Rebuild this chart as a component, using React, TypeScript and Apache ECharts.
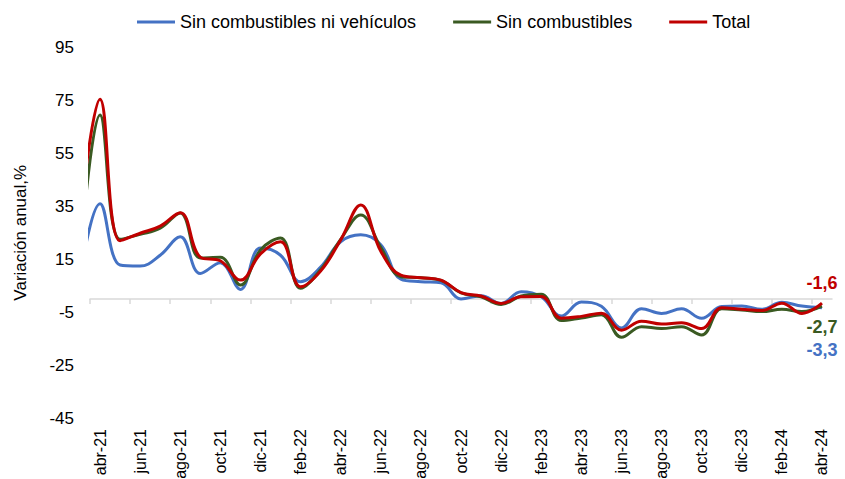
import React, { useEffect, useRef } from 'react';
import * as echarts from 'echarts';

// Months (mar-21 is only partly visible at the left edge, clipped by the plot area)
const months = [
  'mar-21', 'abr-21', 'may-21', 'jun-21', 'jul-21', 'ago-21', 'sep-21', 'oct-21', 'nov-21', 'dic-21',
  'ene-22', 'feb-22', 'mar-22', 'abr-22', 'may-22', 'jun-22', 'jul-22', 'ago-22', 'sep-22', 'oct-22', 'nov-22', 'dic-22',
  'ene-23', 'feb-23', 'mar-23', 'abr-23', 'may-23', 'jun-23', 'jul-23', 'ago-23', 'sep-23', 'oct-23', 'nov-23', 'dic-23',
  'ene-24', 'feb-24', 'mar-24', 'abr-24',
];

const sinCombNiVeh = [
  8, 36, 12.8, 12.4, 16.5, 23.5, 9.6, 13.7, 3.6, 19.2,
  16.5, 6.5, 12, 21.6, 24.2, 20.5, 7.5, 6.5, 6.1, 0, 1.2, -1.7,
  2.7, 0.8, -6.5, -1.2, -2.8, -11, -3.7, -5.5, -3.7, -7.3, -2.9, -2.7,
  -3.9, -1.3, -2.7, -3.3,
];

const sinComb = [
  14, 69.5, 22.5, 24.4, 26.7, 32.5, 15.5, 15.7, 5.3, 18.5,
  23, 4, 11, 22.5, 31.7, 19.5, 8.4, 8, 7, 2.3, 0.8, -2.1,
  1.1, 1.8, -8.2, -7.2, -6, -14.5, -10.5, -11.2, -10.5, -13.6, -3.7, -4.2,
  -4.8, -3.9, -4.8, -2.7,
];

const total = [
  30, 75.4, 22, 24.8, 27.5, 32.6, 15.8, 14.4, 7.1, 17,
  21.6, 4.6, 10.5, 22.3, 35.5, 18, 9, 8, 7.1, 2.4, 1.1, -1.7,
  0.8, 0.9, -7.3, -6.6, -5.4, -11.8, -8.4, -9.5, -9, -11.2, -3.3, -3.9,
  -4.4, -1.6, -5.5, -1.6,
];

const seriesNames = ['Sin combustibles ni vehículos', 'Sin combustibles', 'Total'];
const seriesColors = ['#4472C4', '#3A5A22', '#C00000'];
const yMin = -45;
const yMax = 95;
const yStep = 20;
const firstShown = 1; // abr-21

const FONT = "'Liberation Sans', Arial, sans-serif";

export default function App() {
  const ref = useRef<HTMLDivElement>(null);

  useEffect(() => {
    if (!ref.current) return;
    const chart = echarts.init(ref.current, undefined, { renderer: 'svg' });

    const pos = (i: number) => i - firstShown + 0.5;
    const nShown = months.length - firstShown;
    const tickVals: number[] = [];
    for (let k = 0; k < nShown; k += 2) tickVals.push(k);
    const labelVals = tickVals.map((v) => v + 0.5);
    const labelFor = (v: number) => months[Math.round(v - 0.5) + firstShown] ?? '';

    const fmt = (p: any) => String(p.value[1]).replace('.', ',');
    const labelCfg = [
      { position: 'bottom', distance: 33 },
      { position: 'bottom', distance: 12 },
      { position: 'top', distance: 11 },
    ];

    const datasets = [sinCombNiVeh, sinComb, total];
    const series = datasets.map((arr, si) => ({
      name: seriesNames[si],
      type: 'line',
      xAxisIndex: 0,
      yAxisIndex: 0,
      smooth: 0.4,
      showSymbol: true,
      symbol: 'circle',
      symbolSize: 0.1,
      clip: true,
      lineStyle: { color: seriesColors[si], width: 3 },
      itemStyle: { color: seriesColors[si] },
      z: 2 + si,
      data: arr.map((v, i) => {
        const point: any = { value: [pos(i), v] };
        if (i === arr.length - 1) {
          point.label = {
            show: true,
            position: labelCfg[si].position,
            distance: labelCfg[si].distance,
            formatter: fmt,
            color: seriesColors[si],
            fontWeight: 'bold',
            fontSize: 18,
            fontFamily: FONT,
          };
        }
        return point;
      }),
    }));

    chart.setOption({
      animation: false,
      backgroundColor: '#ffffff',
      textStyle: { fontFamily: FONT },
      legend: {
        left: 132,
        top: 8,
        itemWidth: 38,
        itemHeight: 3,
        itemGap: 37,
        icon: 'rect',
        textStyle: { fontSize: 18, color: '#000000', fontFamily: FONT },
        data: seriesNames,
      },
      grid: {
        left: 90,
        right: 13,
        top: 47.5,
        bottom: 61,
        containLabel: false,
        outerBoundsMode: 'none',
      },
      xAxis: [
        {
          type: 'value',
          min: 0,
          max: nShown,
          axisLine: { show: true, onZero: true, lineStyle: { color: '#d9d9d9', width: 1.5 } },
          axisTick: {
            show: true,
            length: 5,
            customValues: tickVals,
            lineStyle: { color: '#d9d9d9', width: 1.5 },
          },
          axisLabel: { show: false },
          splitLine: { show: false },
        },
        {
          type: 'value',
          min: 0,
          max: nShown,
          position: 'bottom',
          axisLine: { show: false, onZero: false },
          axisTick: { show: false },
          splitLine: { show: false },
          axisLabel: {
            show: true,
            customValues: labelVals,
            rotate: 90,
            margin: 11,
            fontSize: 16,
            color: '#000000',
            fontFamily: FONT,
            formatter: (v: number) => labelFor(v),
          },
        },
      ],
      yAxis: {
        type: 'value',
        min: yMin,
        max: yMax,
        interval: yStep,
        name: 'Variación anual,%',
        nameLocation: 'middle',
        nameRotate: 90,
        nameGap: 61,
        nameTextStyle: { fontSize: 17, color: '#000000', fontFamily: FONT },
        axisLine: { show: false },
        axisTick: { show: false },
        splitLine: { show: false },
        axisLabel: { margin: 16, fontSize: 17, color: '#000000', fontFamily: FONT },
      },
      series,
    });

    return () => {
      chart.dispose();
    };
  }, []);

  return (
    <div
      ref={ref}
      style={{ position: 'fixed', left: 0, top: 0, width: 845, height: 479 }}
    />
  );
}
